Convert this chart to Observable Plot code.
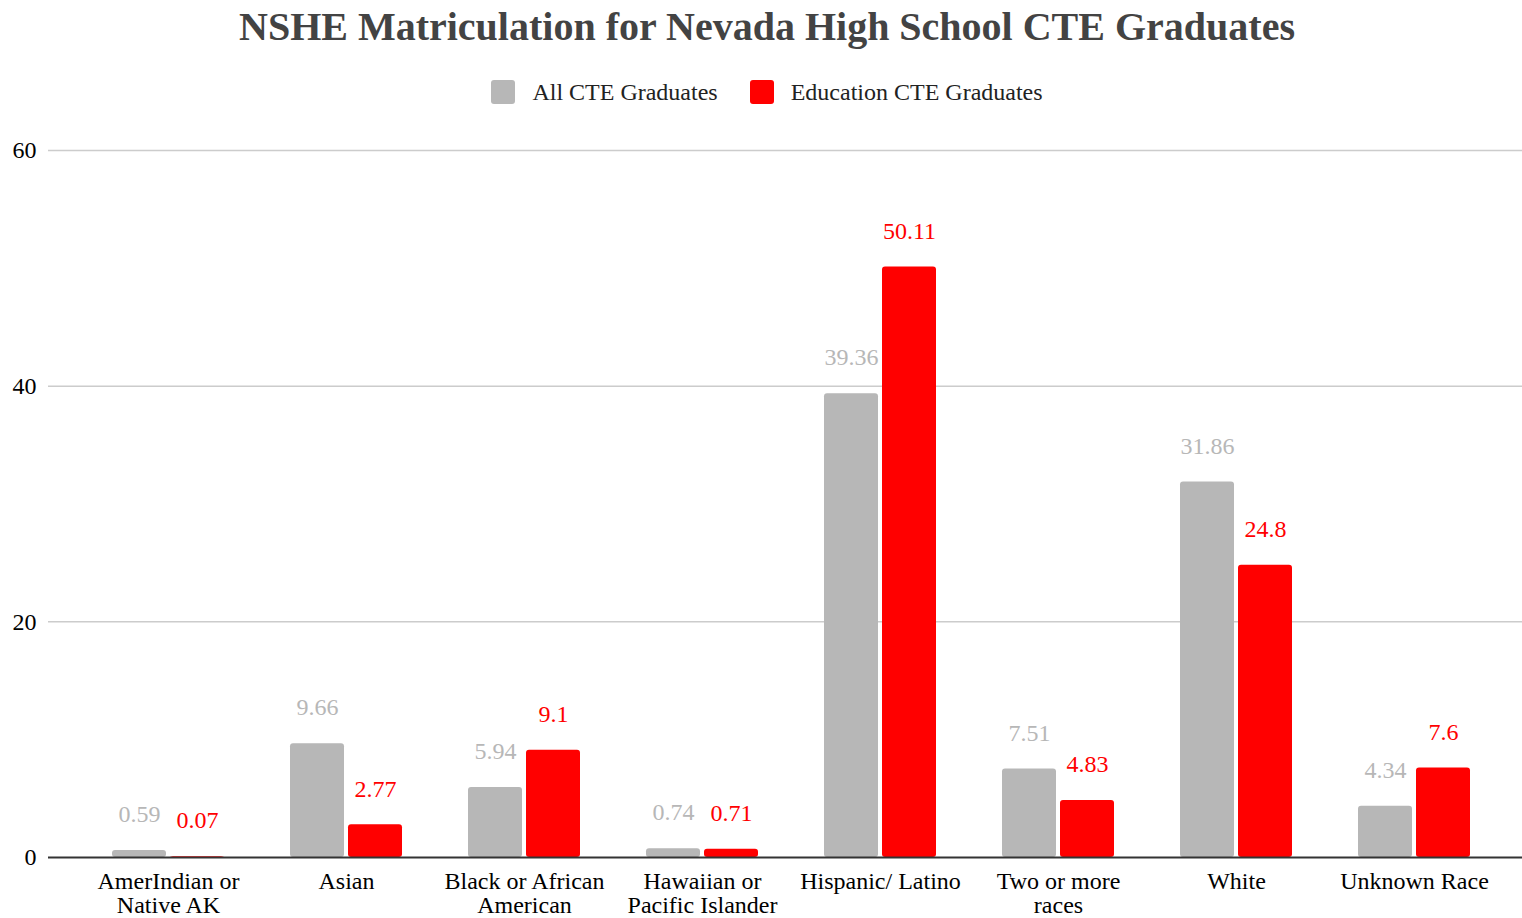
<!DOCTYPE html>
<html>
<head>
<meta charset="utf-8">
<script src="https://cdn.jsdelivr.net/npm/d3@7"></script>
<script src="https://cdn.jsdelivr.net/npm/@observablehq/plot@0.6"></script>
<style>
  html, body { margin: 0; padding: 0; background: #fff; }
  body { width: 1522px; height: 918px; overflow: hidden; font-family: "Liberation Serif", "Times New Roman", serif; }
  #title { height: 54px; line-height: 54px; text-align: center; font-size: 40px; font-weight: bold; color: #434343; padding-left: 12px; }
  #legend { height: 76px; display: flex; justify-content: center; align-items: center; font-size: 24px; color: #222; padding-left: 12px; box-sizing: border-box; }
  .item { display: flex; align-items: center; margin: 0 16px; }
  .sw { width: 24px; height: 24px; border-radius: 3px; margin-right: 17px; }
  #chart svg { display: block; }
</style>
</head>
<body>
<div id="title">NSHE Matriculation for Nevada High School CTE Graduates</div>
<div id="legend"></div>
<div id="chart"></div>
<script>
const categories = [
  "AmerIndian or\nNative AK",
  "Asian",
  "Black or African\nAmerican",
  "Hawaiian or\nPacific Islander",
  "Hispanic/ Latino",
  "Two or more\nraces",
  "White",
  "Unknown Race"
];
const seriesNames = ["All CTE Graduates", "Education CTE Graduates"];
const seriesColors = ["#b7b7b7", "#ff0000"];
const allCTE = [0.59, 9.66, 5.94, 0.74, 39.36, 7.51, 31.86, 4.34];
const eduCTE = [0.07, 2.77, 9.1, 0.71, 50.11, 4.83, 24.8, 7.6];
const yTicks = [0, 20, 40, 60];

const allRows = categories.map((c, i) => ({category: c, value: allCTE[i], series: seriesNames[0]}));
const eduRows = categories.map((c, i) => ({category: c, value: eduCTE[i], series: seriesNames[1]}));

// legend
const legend = document.getElementById("legend");
seriesNames.forEach((s, i) => {
  const it = document.createElement("div");
  it.className = "item";
  it.innerHTML = `<span class="sw" style="background:${seriesColors[i]}"></span><span>${s}</span>`;
  legend.appendChild(it);
});

const chart = Plot.plot({
  width: 1522,
  height: 788,
  marginTop: 20,
  marginBottom: 61,
  marginLeft: 48,
  marginRight: 0,
  style: {fontFamily: "Liberation Serif, Times New Roman, serif", fontSize: "24px", color: "#000", background: "#fff"},
  x: {domain: categories, range: [79, 1503], padding: 0, label: null},
  y: {domain: [0, 60], label: null},
  marks: [
    Plot.ruleY(yTicks.filter(d => d > 0), {stroke: "#cccccc", strokeWidth: 1.5}),
    Plot.axisY({ticks: yTicks, tickSize: 0, tickPadding: 12, label: null, fontSize: 24, fill: "#000"}),
    Plot.axisX({tickSize: 0, tickPadding: 14, label: null, fontSize: 24, fill: "#000", lineHeight: 1.0}),
    Plot.barY(allRows, {x: "category", y: "value", fill: seriesColors[0], insetLeft: 33, insetRight: 91, rx: 3}),
    Plot.barY(eduRows, {x: "category", y: "value", fill: seriesColors[1], insetLeft: 91, insetRight: 33, rx: 3}),
    Plot.ruleY([0], {stroke: "#333333", strokeWidth: 2}),
    Plot.text(allRows, {x: "category", y: "value", text: d => String(d.value), dx: -29, dy: -36, fill: seriesColors[0], stroke: "white", strokeWidth: 4, fontSize: 24}),
    Plot.text(eduRows, {x: "category", y: "value", text: d => String(d.value), dx: 29, dy: -36, fill: seriesColors[1], stroke: "white", strokeWidth: 4, fontSize: 24})
  ]
});
document.getElementById("chart").appendChild(chart);
</script>
</body>
</html>
